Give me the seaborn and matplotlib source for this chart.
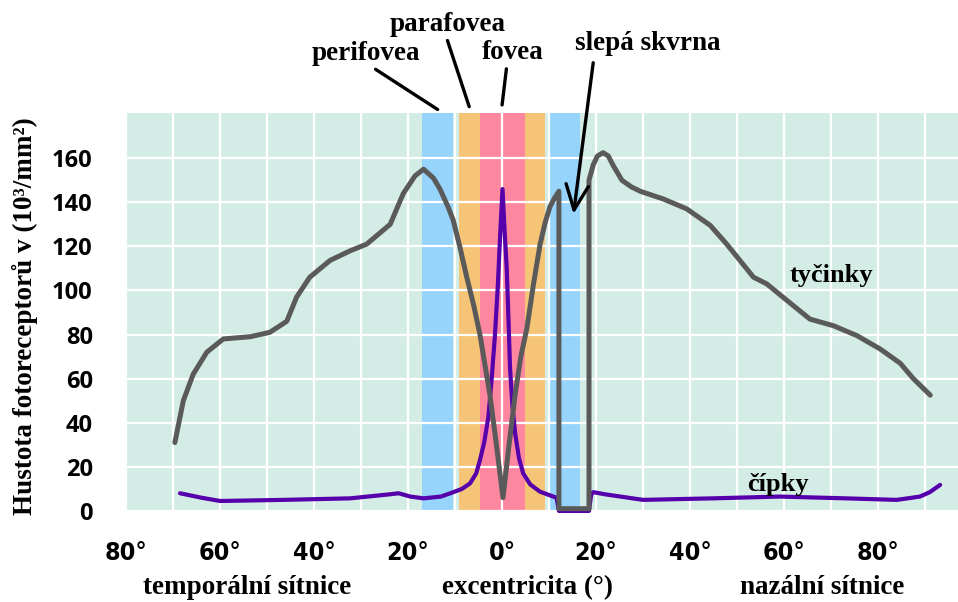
import numpy as np
import pandas as pd
import matplotlib
matplotlib.use("Agg")
import matplotlib.pyplot as plt
import seaborn as sns

# hustota tycinek (rods), poradi bodu zachovano (slepa skvrna = obdelnik)
rods_x = [-69.6, -67.8, -65.7, -62.8, -59.3, -53.6, -49.4, -45.8, -43.7, -40.9, -36.6, -32.3,
          -28.8, -23.8, -21.0, -18.5, -16.7, -14.6, -13.2, -11.5, -10.4, -9.0, -7.5, -6.0, -4.7,
          -2.6, -1.2, 0.2, 1.5, 2.8, 4.0, 5.3, 6.7, 8.1, 9.2, 10.2, 11.2, 12.1, 12.1, 18.5, 18.5,
          19.4, 20.3, 21.5, 22.6, 23.7, 25.5, 27.5, 29.4, 34.3, 39.3, 44.3, 47.8, 53.5, 56.3, 60.6,
          65.5, 70.5, 75.5, 80.4, 84.7, 87.5, 91.1]
rods_y = [31, 50, 62, 72, 78, 79, 81, 86, 97, 106, 113.6, 118,
          121, 130, 144, 152, 155, 151, 146, 138, 132, 120, 106, 93, 80,
          53, 30, 6, 30, 53, 70, 83, 103, 121, 131, 138, 142, 145, 1, 1, 150,
          157, 161, 162.5, 161, 156.5, 150, 147, 145, 141.5, 137, 129.5, 121, 106, 103, 95.5,
          87, 84, 79.5, 73.5, 67, 60, 52.5]

# hustota cipku (cones)
cones_x = [-68.5, -64, -60, -46.5, -32.3, -24, -22, -19.5, -16.7, -13, -11, -8.5, -6.8, -5.5,
           -4.7, -3.8, -2.9, -2.2, -1.5, -0.9, -0.4, 0.1, 0.6, 1.0, 1.4, 1.7, 2.2, 2.8, 3.6, 4.5,
           6.0, 8.1, 10.9, 11.6, 12.1, 18.5, 19.0, 19.4, 22, 30, 45, 59, 73, 84, 88.9, 91, 93.2]
cones_y = [8, 6, 4.5, 5, 5.7, 7.5, 8, 6.5, 5.7, 6.5, 8, 10, 12.5, 17,
           23, 31, 42.7, 60, 80, 102, 125, 146, 125, 110, 85, 65, 48, 35, 24, 17,
           12, 8.7, 6.5, 6, 0, 0, 8, 8.5, 7.5, 5, 5.7, 6.5, 5.7, 5, 6.5, 8.5, 11.8]

# barevne pasy: perifovea, parafovea, fovea, parafovea, perifovea
band_start = [-17.0, -9.1, -4.7, 4.9, 10.0]
band_end = [-10.4, -4.7, 4.9, 9.2, 16.6]
band_color = ["#96d4fc", "#f6c476", "#fe87a0", "#f6c476", "#96d4fc"]

x_ticks = [-80, -60, -40, -20, 0, 20, 40, 60, 80]
y_ticks = [0, 20, 40, 60, 80, 100, 120, 140, 160]

sns.set_theme(style="darkgrid", rc={"axes.facecolor": "#d4ece6", "grid.color": "white",
                                    "grid.linewidth": 1.6})

fig = plt.figure(figsize=(9.58, 6.02), dpi=100)
ax = fig.add_axes([0.1315, 0.1495, 0.8685, 0.6628])

for s, e, c in zip(band_start, band_end, band_color):
    ax.axvspan(s, e, color=c, lw=0, zorder=0.3)

sns.lineplot(x=cones_x, y=cones_y, sort=False, estimator=None, color="#5500aa", lw=3.0,
             ax=ax, zorder=2, clip_on=False)
sns.lineplot(x=rods_x, y=rods_y, sort=False, estimator=None, color="#5a5a5a", lw=3.6,
             ax=ax, zorder=3, clip_on=False)

ax.set_xlim(-80, 97)
ax.set_ylim(-0.5, 180.5)
ax.set_xticks(x_ticks)
ax.set_xticklabels([f"{abs(v)}°" for v in x_ticks])
ax.set_xticks([-70, -50, -30, -10, 10, 30, 50, 70, 90], minor=True)
ax.set_yticks(y_ticks)
ax.grid(True, axis="x", which="both")
ax.grid(True, axis="y", which="major")
ax.set_axisbelow(True)
for sp in ax.spines.values():
    sp.set_visible(False)

ax.tick_params(axis="x", which="both", length=0, pad=21)
ax.tick_params(axis="y", length=0, pad=24)
for t in ax.get_xticklabels():
    t.set_fontfamily("DejaVu Sans")
    t.set_fontstretch("condensed")
    t.set_fontweight("bold")
    t.set_fontsize(18)
    t.set_color("black")
for t in ax.get_yticklabels():
    t.set_fontfamily(["Open Sans", "DejaVu Sans"])
    t.set_fontweight("bold")
    t.set_fontsize(17)
    t.set_color("black")
ax.set_xlabel("")
ax.set_ylabel("")

serif = dict(family=["Liberation Serif", "DejaVu Serif"], fontweight="bold", color="black")

# popisky oblasti s carami
ax.annotate("", xy=(-13.2, 181.4), xytext=(-27.4, 201), annotation_clip=False,
            arrowprops=dict(arrowstyle="-", lw=2.4, color="black"))
ax.annotate("", xy=(-6.8, 182.2), xytext=(-11.8, 214.6), annotation_clip=False,
            arrowprops=dict(arrowstyle="-", lw=2.4, color="black"))
ax.annotate("", xy=(-0.06, 182.9), xytext=(1.0, 201.8), annotation_clip=False,
            arrowprops=dict(arrowstyle="-", lw=2.4, color="black"))
ax.annotate("", xy=(15.2, 134.7), xytext=(19.4, 203.3), annotation_clip=False,
            arrowprops=dict(arrowstyle="->,head_length=1.0,head_width=0.45", lw=2.4,
                            color="black", shrinkA=0, shrinkB=0, mutation_scale=18),
            zorder=5)

ax.text(-28.9, 207.7, "perifovea", ha="center", va="center", fontsize=19.5, clip_on=False, **serif)
ax.text(-11.5, 220.8, "parafovea", ha="center", va="center", fontsize=19.5, clip_on=False, **serif)
ax.text(2.3, 208, "fovea", ha="center", va="center", fontsize=19.5, clip_on=False, **serif)
ax.text(31.1, 211.8, "slepá skvrna", ha="center", va="center", fontsize=19.5, clip_on=False, **serif)
ax.text(70, 106.8, "tyčinky", ha="center", va="center", fontsize=19, **serif)
ax.text(58.8, 12.2, "čípky", ha="center", va="center", fontsize=19, **serif)

fig.text(0.258, 0.0233, "temporální sítnice", ha="center", va="center", fontsize=19.5, **serif)
fig.text(0.551, 0.0233, "excentricita (°)", ha="center", va="center", fontsize=19.5, **serif)
fig.text(0.858, 0.0233, "nazální sítnice", ha="center", va="center", fontsize=19.5, **serif)
fig.text(0.026, 0.475, "Hustota fotoreceptorů v (10³/mm²)", ha="center", va="center",
         rotation=90, fontsize=19.5, **serif)

fig.savefig("out.png", dpi=100, facecolor="white")
